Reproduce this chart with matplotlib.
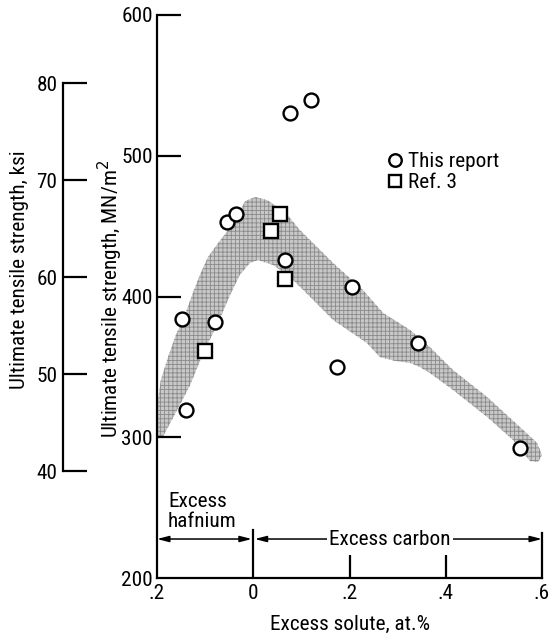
import matplotlib
matplotlib.use("Agg")
import matplotlib.pyplot as plt
from matplotlib import font_manager as fm
from matplotlib.patches import Polygon

# Prefer a narrow sans face; fall back to a compact regular one.
_fonts = fm.fontManager.ttflist
_names = {f.name for f in _fonts}
FS = 13.0
family = None
for cand in ['Liberation Sans Narrow', 'Roboto Condensed', 'Open Sans Condensed', 'Arial Narrow']:
    if cand in _names:
        family, FS = cand, 15.3
        break
if family is None:
    condensed = [f.name for f in _fonts
                 if str(f.stretch) in ('condensed', 'semi-condensed', '500', '300', '400')
                 and f.name in ('DejaVu Sans', 'Noto Sans', 'Open Sans', 'Roboto')
                 and str(f.stretch) != 'normal' and str(f.stretch) != '500']
    if condensed:
        family, FS = condensed[0], 15.3
        plt.rcParams['font.stretch'] = 'condensed'
    else:
        family = 'Roboto'
plt.rcParams['font.family'] = [family, 'DejaVu Sans']
plt.rcParams['hatch.linewidth'] = 0.6

# Measured strengths (excess solute: negative = excess hafnium)
report_x = [-0.148, -0.140, -0.079, -0.055, -0.036, 0.066, 0.076, 0.120, 0.174, 0.205, 0.342, 0.554]
report_y = [384.0, 319.4, 381.9, 452.9, 458.6, 425.9, 530.4, 539.6, 349.9, 406.7, 367.0, 292.4]
ref3_x = [-0.100, 0.037, 0.056, 0.066]
ref3_y = [361.3, 446.5, 458.6, 412.4]

# Scatter band outline (upper edge left-to-right, then lower edge back)
band_x = [-0.198, -0.198, -0.192, -0.177, -0.161, -0.146, -0.127, -0.111, -0.094, -0.073,
          -0.052, -0.032, -0.017, 0.004, 0.029, 0.066, 0.097, 0.166, 0.228, 0.270,
          0.326, 0.367, 0.415, 0.486, 0.554, 0.590, 0.600,
          0.592, 0.575, 0.540, 0.486, 0.415, 0.367, 0.346, 0.326, 0.295, 0.263,
          0.236, 0.166, 0.108, 0.076, 0.041, 0.010, -0.007, -0.028, -0.048, -0.075,
          -0.104, -0.131, -0.158, -0.188]
band_y = [300.2, 326.5, 340.7, 357.0, 372.6, 383.3, 401.1, 415.3, 428.1, 438.0,
          447.2, 457.9, 467.8, 470.7, 468.5, 460.0, 447.2, 423.8, 404.6, 388.3,
          376.2, 364.1, 347.8, 328.6, 307.3, 295.9, 287.4,
          282.4, 283.1, 298.0, 314.4, 333.6, 345.6, 349.9, 352.8, 354.2, 357.0,
          367.0, 383.3, 403.2, 413.9, 422.4, 425.9, 423.8, 415.3, 401.1, 379.8,
          359.9, 337.1, 319.4, 300.2]

x_ticks = [-0.2, 0.0, 0.2, 0.4, 0.6]
x_ticklabels = ['.2', '0', '.2', '.4', '.6']
y_ticks = [200, 300, 400, 500, 600]
ksi_ticks = [40, 50, 60, 70, 80]
MN_PER_KSI = 6.894757

W, H = 550, 635
fig = plt.figure(figsize=(W / 100, H / 100), dpi=100)

left, right, bottom, top = 157 / W, 542 / W, 1 - 578 / H, 1 - 15 / H
ax = fig.add_axes([left, bottom, right - left, top - bottom])
ax.set_xlim(-0.2, 0.6)
ax.set_ylim(200, 600)

for s in ['top', 'right']:
    ax.spines[s].set_visible(False)
for s in ['left', 'bottom']:
    ax.spines[s].set_linewidth(1.6)

ax.set_yticks(y_ticks)
ax.set_yticklabels([str(v) for v in y_ticks])
ax.tick_params(axis='y', direction='in', length=17, width=1.6, labelsize=FS, pad=3)
ax.set_xticks(x_ticks)
ax.set_xticklabels(x_ticklabels)
ax.tick_params(axis='x', direction='in', length=16.5, width=1.6, labelsize=FS, pad=4)
# end ticks are replaced by the region divider lines
for i, t in enumerate(ax.xaxis.get_major_ticks()):
    if i in (0, 1, 4):
        t.tick1line.set_visible(False)
ax.yaxis.get_major_ticks()[0].tick1line.set_visible(False)

# scatter band
band = Polygon(list(zip(band_x, band_y)), closed=True, facecolor='#c8c8c8',
               edgecolor='#8a8a8a', hatch='++++', linewidth=0, zorder=1, clip_on=False)
ax.add_patch(band)

ax.plot(report_x, report_y, 'o', ms=10, mfc='white', mec='black', mew=1.7,
        ls='none', zorder=3, label='This report')
ax.plot(ref3_x, ref3_y, 's', ms=10, mfc='white', mec='black', mew=1.7,
        ls='none', zorder=3, label='Ref. 3')

ax.legend(loc='center left', bbox_to_anchor=(0.598, 0.721), frameon=False,
          handlelength=0.7, handletextpad=0.3, borderpad=0, borderaxespad=0,
          labelspacing=0.1, fontsize=FS, markerscale=0.9)

# composition region markers
ax.plot([0, 0], [200, 234], color='black', lw=1.6)
ax.plot([0.6, 0.6], [200, 232], color='black', lw=1.6, clip_on=False)
arrow = dict(arrowstyle='<|-|>,head_length=0.7,head_width=0.18', color='black',
             lw=1.1, shrinkA=0, shrinkB=0)
ax.annotate('', xy=(-0.2, 227.7), xytext=(-0.003, 227.7), arrowprops=arrow)
ax.annotate('', xy=(0.003, 227.7), xytext=(0.6, 227.7), arrowprops=arrow)
ax.text(0.284, 227.7, 'Excess carbon', ha='center', va='center', fontsize=FS,
        bbox=dict(facecolor='white', edgecolor='none', pad=1.5), zorder=4)
ax.text(-0.177, 247, 'Excess\nhafnium', ha='left', va='center', fontsize=FS,
        linespacing=1.05)

# secondary strength scale in ksi
ax2 = fig.add_axes([63 / W, bottom, 0.05, top - bottom])
ax2.set_ylim(200 / MN_PER_KSI, 600 / MN_PER_KSI)
ax2.patch.set_visible(False)
for s in ['top', 'right', 'bottom']:
    ax2.spines[s].set_visible(False)
ax2.spines['left'].set_bounds(40, 80)
ax2.spines['left'].set_linewidth(1.6)
ax2.set_xticks([])
ax2.set_yticks(ksi_ticks)
ax2.set_yticklabels([str(v) for v in ksi_ticks])
ax2.tick_params(axis='y', direction='in', length=17, width=1.6, labelsize=FS, pad=4)

fig.text(20 / W, 1 - 270 / H, 'Ultimate tensile strength, ksi', rotation=90,
         ha='center', va='center', fontsize=FS)
fig.text(110 / W, 1 - 299 / H, 'Ultimate tensile strength, MN/m$^2$', rotation=90,
         ha='center', va='center', fontsize=FS)
fig.text(350 / W, 1 - 624 / H, 'Excess solute, at.%', ha='center', va='center',
         fontsize=FS)

fig.savefig('out.png', dpi=100)
